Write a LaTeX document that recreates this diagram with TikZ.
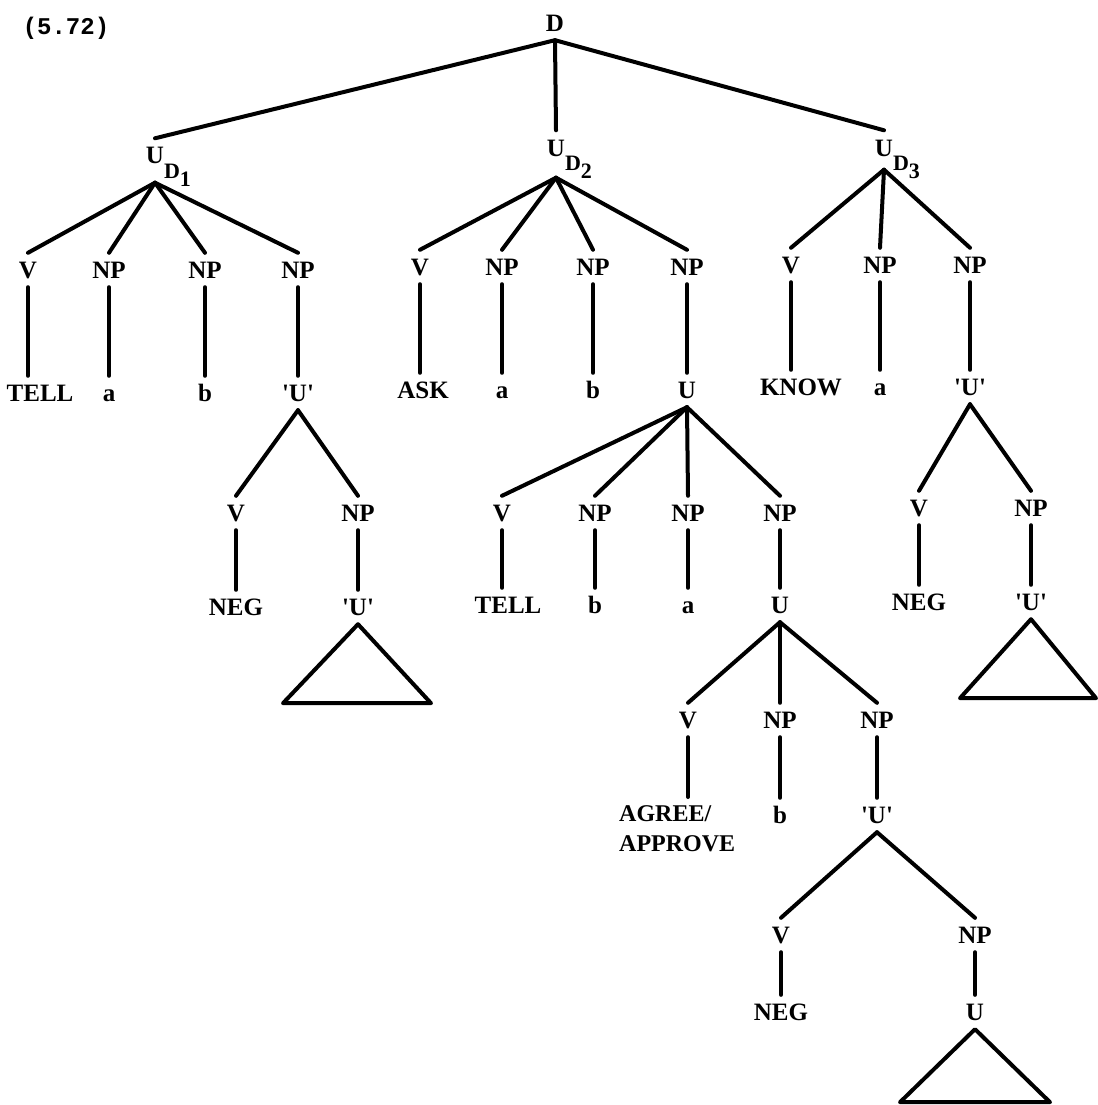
\documentclass[tikz,border=0pt]{standalone}
\usepackage{fontspec}
\setmainfont{Liberation Serif}
\newfontfamily\typefont{Liberation Mono}
\newcommand{\subfont}{\fontsize{22}{22}\selectfont}
\newcommand{\qU}{\textquotesingle U\textquotesingle}
\begin{document}
\begin{tikzpicture}[x=1pt,y=-1pt,
  lbl/.style={font=\bfseries\fontsize{25}{28}\selectfont, text height=17pt,
    text depth=0pt, inner xsep=0pt, inner ysep=8.5pt},
  udnode/.style={lbl, anchor=base},
  edge/.style={line width=4pt, line cap=round, line join=round}]
\useasboundingbox (0,0) rectangle (1097,1105);

% example number
\node[font=\typefont\bfseries\fontsize{24}{26}\selectfont] (num) at (66,28) {(5.72)};

% root and discourse units
\node[lbl] (D) at (555,23) {D};
\node[udnode, text depth=10pt] (ud1) at (155,164) {U\rlap{\raisebox{-14pt}{\subfont D\raisebox{-8pt}{1}}}};
\node[udnode, text depth=13pt] (ud2) at (556,156) {U\rlap{\raisebox{-14pt}{\subfont D\raisebox{-8pt}{2}}}};
\node[udnode, text depth=5pt]  (ud3) at (884,156) {U\rlap{\raisebox{-14pt}{\subfont D\raisebox{-8pt}{3}}}};
\foreach \n in {ud1,ud2,ud3} \draw[edge] (D.south) -- (\n.north);

% U_D1: TELL a b 'U'
\node[lbl] (v1)   at (28,270)  {V};
\node[lbl] (np1a) at (109,270) {NP};
\node[lbl] (np1b) at (205,270) {NP};
\node[lbl] (np1c) at (298,270) {NP};
\foreach \n in {v1,np1a,np1b,np1c} \draw[edge] (ud1.south) -- (\n.north);
\node[lbl] (tell1) at (40,393)  {TELL};
\node[lbl] (a1)    at (109,393) {a};
\node[lbl] (b1)    at (205,393) {b};
\node[lbl] (uq1)   at (298,393) {\qU};
\draw[edge] (v1.south) -- (v1.south |- tell1.north);
\draw[edge] (np1a.south) -- (a1.north);
\draw[edge] (np1b.south) -- (b1.north);
\draw[edge] (np1c.south) -- (uq1.north);

% 'U': NEG 'U'
\node[lbl] (v4)  at (236,513) {V};
\node[lbl] (np4) at (358,513) {NP};
\draw[edge] (uq1.south) -- (v4.north);
\draw[edge] (uq1.south) -- (np4.north);
\node[lbl] (neg4) at (236,607) {NEG};
\node[lbl] (uq4)  at (358,607) {\qU};
\draw[edge] (v4.south) -- (neg4.north);
\draw[edge] (np4.south) -- (uq4.north);
\draw[edge] (uq4.south) -- ++(-75,79) -- ++(148,0) -- cycle;

% U_D2: ASK a b U
\node[lbl] (v2)   at (420,267) {V};
\node[lbl] (np2a) at (502,267) {NP};
\node[lbl] (np2b) at (593,267) {NP};
\node[lbl] (np2c) at (687,267) {NP};
\foreach \n in {v2,np2a,np2b,np2c} \draw[edge] (ud2.south) -- (\n.north);
\node[lbl] (ask) at (423,390) {ASK};
\node[lbl] (a2)  at (502,390) {a};
\node[lbl] (b2)  at (593,390) {b};
\node[lbl] (u2)  at (687,390) {U};
\draw[edge] (v2.south) -- (v2.south |- ask.north);
\draw[edge] (np2a.south) -- (a2.north);
\draw[edge] (np2b.south) -- (b2.north);
\draw[edge] (np2c.south) -- (u2.north);

% U: TELL b a U
\node[lbl] (v5)   at (502,513) {V};
\node[lbl] (np5a) at (595,513) {NP};
\node[lbl] (np5b) at (688,513) {NP};
\node[lbl] (np5c) at (780,513) {NP};
\foreach \n in {v5,np5a,np5b,np5c} \draw[edge] (u2.south) -- (\n.north);
\node[lbl] (tell5) at (508,605) {TELL};
\node[lbl] (b5)    at (595,605) {b};
\node[lbl] (a5)    at (688,605) {a};
\node[lbl] (u5)    at (780,605) {U};
\draw[edge] (v5.south) -- (v5.south |- tell5.north);
\draw[edge] (np5a.south) -- (b5.north);
\draw[edge] (np5b.south) -- (a5.north);
\draw[edge] (np5c.south) -- (u5.north);

% U: AGREE/APPROVE b 'U'
\node[lbl] (v7)   at (688,720) {V};
\node[lbl] (np7a) at (780,720) {NP};
\node[lbl] (np7b) at (877,720) {NP};
\foreach \n in {v7,np7a,np7b} \draw[edge] (u5.south) -- (\n.north);
\node[font=\bfseries\fontsize{24}{30}\selectfont, align=left, inner xsep=0pt,
      inner ysep=8pt, anchor=north west] (agree) at (619,797) {AGREE/\\APPROVE};
\node[lbl] (b7)  at (780,815) {b};
\node[lbl] (uq7) at (877,815) {\qU};
\draw[edge] (v7.south) -- (v7.south |- agree.north);
\draw[edge] (np7a.south) -- (b7.north);
\draw[edge] (np7b.south) -- (uq7.north);

% 'U': NEG U
\node[lbl] (v8)  at (781,935) {V};
\node[lbl] (np8) at (975,935) {NP};
\draw[edge] (uq7.south) -- (v8.north);
\draw[edge] (uq7.south) -- (np8.north);
\node[lbl] (neg8) at (781,1012) {NEG};
\node[lbl] (u8)   at (975,1012) {U};
\draw[edge] (v8.south) -- (neg8.north);
\draw[edge] (np8.south) -- (u8.north);
\draw[edge] (u8.south) -- ++(-75,73) -- ++(150,0) -- cycle;

% U_D3: KNOW a 'U'
\node[lbl] (v3)   at (791,265) {V};
\node[lbl] (np3a) at (880,265) {NP};
\node[lbl] (np3b) at (970,265) {NP};
\foreach \n in {v3,np3a,np3b} \draw[edge] (ud3.south) -- (\n.north);
\node[lbl] (know) at (801,387) {KNOW};
\node[lbl] (a3)   at (880,387) {a};
\node[lbl] (uq3)  at (970,387) {\qU};
\draw[edge] (v3.south) -- (v3.south |- know.north);
\draw[edge] (np3a.south) -- (a3.north);
\draw[edge] (np3b.south) -- (uq3.north);

% 'U': NEG 'U'
\node[lbl] (v6)  at (919,508) {V};
\node[lbl] (np6) at (1031,508) {NP};
\draw[edge] (uq3.south) -- (v6.north);
\draw[edge] (uq3.south) -- (np6.north);
\node[lbl] (neg6) at (919,602)  {NEG};
\node[lbl] (uq6)  at (1031,602) {\qU};
\draw[edge] (v6.south) -- (neg6.north);
\draw[edge] (np6.south) -- (uq6.north);
\draw[edge] (uq6.south) -- ++(-71,79) -- ++(136,0) -- cycle;
\end{tikzpicture}
\end{document}
